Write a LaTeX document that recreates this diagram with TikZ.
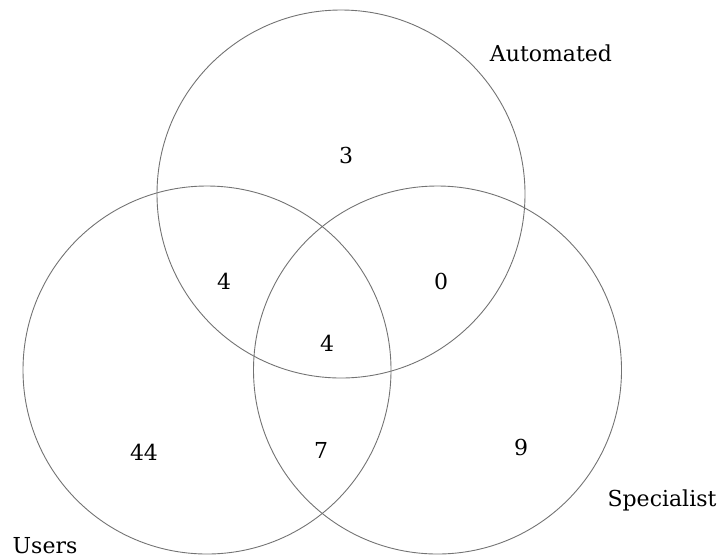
\documentclass[tikz,border=0pt]{standalone}
\usepackage{fontspec}
\setmainfont{DejaVu Serif}
\begin{document}
\begin{tikzpicture}[x=1pt,y=-1pt,
  setring/.style={draw=black!55,line width=0.9pt},
  setname/.style={font=\fontsize{22}{26}\selectfont,inner sep=0pt},
  count/.style={font=\fontsize{22}{26}\selectfont,inner sep=0pt}]
\useasboundingbox (0,0) rectangle (719,558);
% three overlapping sets
\node[setring,circle,minimum size=368pt,inner sep=0pt] (auto) at (341,194) {};
\node[setring,circle,minimum size=368pt,inner sep=0pt] (users) at (207,370) {};
\node[setring,circle,minimum size=368pt,inner sep=0pt] (spec) at (437.5,370) {};
% set names
\node[setname] (lauto) at (551,53) {Automated};
\node[setname] (lspec) at (662,500) {Specialist};
\node[setname] (lusers) at (45,546) {Users};
% region counts
\node[count] (cA) at (346,155) {3};
\node[count] (cAU) at (224,281) {4};
\node[count] (cAS) at (441,281) {0};
\node[count] (cAUS) at (327,343) {4};
\node[count] (cU) at (144,452) {44};
\node[count] (cUS) at (321,450) {7};
\node[count] (cS) at (521,447) {9};
\end{tikzpicture}
\end{document}
